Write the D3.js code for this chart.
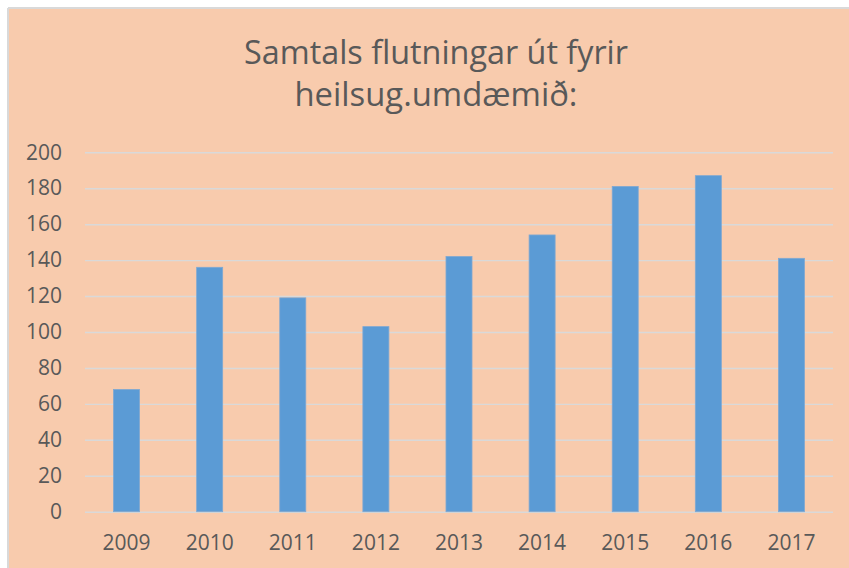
<!DOCTYPE html>
<html>
<head>
<meta charset="utf-8">
<script src="https://cdn.jsdelivr.net/npm/d3@7"></script>
<style>
  html, body { margin: 0; padding: 0; background: #ffffff; }
  svg { display: block; }
</style>
</head>
<body>
<svg id="chart" width="849" height="568"></svg>
<script>
// ---- data ----
const years = ["2009", "2010", "2011", "2012", "2013", "2014", "2015", "2016", "2017"];
const values = [68, 136, 119, 103, 142, 154, 181, 187, 141];
const yTicks = [0, 20, 40, 60, 80, 100, 120, 140, 160, 180, 200];
const titleLines = ["Samtals flutningar út fyrir", "heilsug.umdæmið:"];

// ---- layout ----
const W = 849, H = 568;
const plot = { left: 85, right: 833, top: 152.3, bottom: 511.7 };
const font = "'Open Sans', 'Noto Sans', sans-serif";
const textColor = "#595959";

const svg = d3.select("#chart");

// background + border
svg.append("rect").attr("x", 0).attr("y", 0).attr("width", W).attr("height", H).attr("fill", "#ffffff");
svg.append("rect").attr("x", 8).attr("y", 8).attr("width", W - 8).attr("height", H - 8).attr("fill", "#F8CBAD");
svg.append("line").attr("x1", 8).attr("x2", W).attr("y1", 8).attr("y2", 8)
  .attr("stroke", "#D9D9D9").attr("stroke-width", 2);
svg.append("line").attr("x1", 8).attr("x2", 8).attr("y1", 8).attr("y2", H)
  .attr("stroke", "#D9D9D9").attr("stroke-width", 2);

// scales
const x = d3.scaleBand().domain(years).range([plot.left, plot.right])
  .paddingInner(0.687).paddingOuter(0.3435);
const y = d3.scaleLinear().domain([0, 200]).range([plot.bottom, plot.top]);

// gridlines
const grid = svg.append("g").attr("transform", `translate(${plot.left},0)`)
  .call(d3.axisLeft(y).tickValues(yTicks).tickSize(-(plot.right - plot.left)).tickFormat(""));
grid.select(".domain").remove();
grid.selectAll(".tick line").attr("stroke", "#D9D9D9").attr("stroke-width", 1.4);

// bars
svg.append("g").selectAll("rect").data(values).join("rect")
  .attr("x", (d, i) => x(years[i]))
  .attr("width", x.bandwidth())
  .attr("y", d => y(d))
  .attr("height", d => y(0) - y(d))
  .attr("fill", "#5B9BD5")
  .attr("stroke", "#7FA8D2")
  .attr("stroke-width", 0.8);

// y axis labels
const yAxis = svg.append("g").attr("transform", `translate(${plot.left},0)`)
  .call(d3.axisLeft(y).tickValues(yTicks).tickSize(0).tickPadding(23));
yAxis.select(".domain").remove();
yAxis.selectAll("text").attr("fill", textColor).style("font-family", font).style("font-size", "21px");

// x axis labels
const xAxis = svg.append("g").attr("transform", `translate(0,${plot.bottom})`)
  .call(d3.axisBottom(x).tickSize(0).tickPadding(23.4));
xAxis.select(".domain").remove();
xAxis.selectAll("text").attr("fill", textColor).style("font-family", font).style("font-size", "21px");

// title
const titleWidths = [384, 283];
const titleBaselines = [64, 106];
svg.append("g").selectAll("text").data(titleLines).join("text")
  .attr("x", 436)
  .attr("y", (d, i) => titleBaselines[i])
  .attr("text-anchor", "middle")
  .attr("fill", textColor)
  .style("font-family", font)
  .style("font-size", "33px")
  .attr("textLength", (d, i) => titleWidths[i])
  .attr("lengthAdjust", "spacingAndGlyphs")
  .text(d => d);
</script>
</body>
</html>
